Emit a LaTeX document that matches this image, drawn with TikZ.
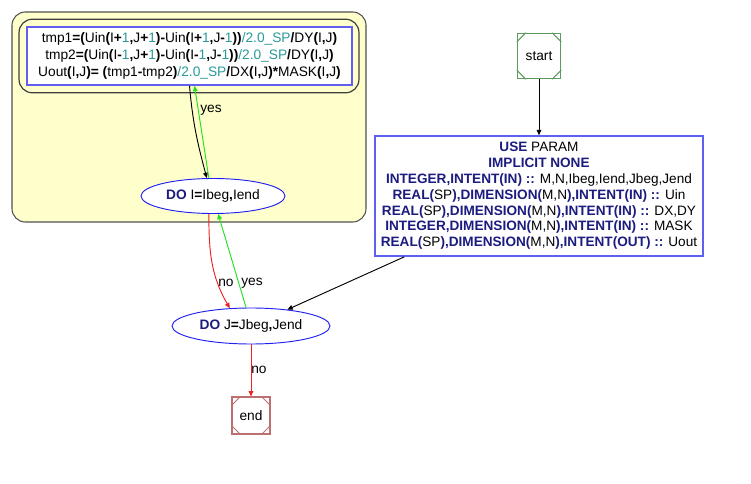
\documentclass[tikz,border=0pt]{standalone}
\usepackage{fontspec}
\setmainfont{Liberation Sans}
\usetikzlibrary{arrows.meta, calc, shapes.geometric}
\definecolor{clusterbg}{HTML}{FFFFCC}
\definecolor{clusterbd}{HTML}{505050}
\definecolor{framegray}{HTML}{404040}
\definecolor{boxblue}{HTML}{6060F0}
\definecolor{loopblue}{HTML}{2020F0}
\definecolor{kwnavy}{HTML}{1C1C80}
\definecolor{numteal}{HTML}{2A9A9A}
\definecolor{startgreen}{HTML}{5E9A5E}
\definecolor{stopred}{HTML}{BC7070}
\definecolor{nored}{HTML}{F02020}
\definecolor{yesgreen}{HTML}{20E020}

\newcommand{\kw}[1]{\textbf{\textcolor{kwnavy}{#1}}}
\newcommand{\op}[1]{\textbf{#1}}
\newcommand{\nm}[1]{\textcolor{numteal}{#1}}

\begin{document}
\begin{tikzpicture}[x=0.75pt, y=0.75pt,
  >={Triangle[length=4pt, width=3.5pt]},
  every node/.style={font=\fontsize{10.3pt}{12.4pt}\selectfont},
  loopnode/.style={ellipse, draw=loopblue, fill=white, line width=0.7pt, inner sep=0pt},
  termnode/.style={rectangle, fill=white, line width=0.8pt, inner sep=0pt},
  codebox/.style={rectangle, draw=boxblue, fill=white, line width=1.2pt, align=center, inner sep=0pt},
  edge/.style={line width=0.7pt, ->},
  lbl/.style={inner sep=1pt}]

\useasboundingbox (0,0) rectangle (751,483);

% ================================================================
% Loop cluster (inner DO)
% ================================================================
\draw[clusterbd, fill=clusterbg, line width=0.8pt, rounded corners=10pt]
  (12,261) rectangle (366,471);

\node[codebox, minimum width=244pt, minimum height=43.5pt,
      font=\fontsize{10.3pt}{12.9pt}\selectfont] (body) at (189.5,427)
  {tmp1\op{=(}Uin\op{(}I\op{+}\nm{1}\op{,}J\op{+}\nm{1}\op{)-}Uin\op{(}I\op{+}\nm{1}\op{,}J\op{-}\nm{1}\op{))}\nm{/2.0\_SP}\op{/}DY\op{(}I\op{,}J\op{)}\\
   tmp2\op{=(}Uin\op{(}I\op{-}\nm{1}\op{,}J\op{+}\nm{1}\op{)-}Uin\op{(}I\op{-}\nm{1}\op{,}J\op{-}\nm{1}\op{))}\nm{/2.0\_SP}\op{/}DY\op{(}I\op{,}J\op{)}\\
   Uout\op{(}I\op{,}J\op{)=} \op{(}tmp1\op{-}tmp2\op{)}\nm{/2.0\_SP}\op{/}DX\op{(}I\op{,}J\op{)*}MASK\op{(}I\op{,}J\op{)}};
\draw[framegray, line width=0.9pt, rounded corners=10pt]
  ($(body.south west)+(-7,-7)$) rectangle ($(body.north east)+(6,7)$);

\node[loopnode, minimum width=108pt, minimum height=26.25pt] (doi) at (213,287)
  {\kw{DO} I\op{=}Ibeg\op{,}Iend};

% ================================================================
% Outer nodes
% ================================================================
\node[termnode, draw=startgreen, minimum width=32.5pt, minimum height=34pt]
  (start) at (539,427) {start};

\node[codebox, minimum width=246pt, minimum height=90pt,
      font=\fontsize{10.2pt}{11.85pt}\selectfont] (param) at (539,287)
  {\kw{USE} PARAM\\
   \kw{IMPLICIT NONE}\\
   \kw{INTEGER,INTENT(IN) ::} M,N,Ibeg,Iend,Jbeg,Jend\\
   \kw{REAL(}SP\kw{),DIMENSION(}M,N\kw{),INTENT(IN) ::} Uin\\
   \kw{REAL(}SP\kw{),DIMENSION(}M,N\kw{),INTENT(IN) ::} DX,DY\\
   \kw{INTEGER,DIMENSION(}M,N\kw{),INTENT(IN) ::} MASK\\
   \kw{REAL(}SP\kw{),DIMENSION(}M,N\kw{),INTENT(OUT) ::} Uout};

\node[loopnode, minimum width=118.5pt, minimum height=27pt] (doj) at (251,157)
  {\kw{DO} J\op{=}Jbeg\op{,}Jend};

\node[termnode, draw=stopred, minimum width=28.5pt, minimum height=27.75pt]
  (stop) at (251,67.5) {end};

% Msquare corner cuts
\foreach \n/\col in {start/startgreen, stop/stopred}
  \foreach \c/\dx/\dy in {north west/1/-1, north east/-1/-1,
                          south west/1/1, south east/-1/1}
    \draw[\col, line width=0.7pt]
      ($(\n.\c)+(0,\dy*9)$) -- ($(\n.\c)+(\dx*9,0)$);

% ================================================================
% Edges
% ================================================================
\draw[edge] (start) -- (param);
\draw[edge] (param) -- (doj);
\draw[edge] (body.south) to[out=-85, in=105] (doi.109);
\draw[edge, yesgreen] (doi.103) -- ($(body.south)+(5,0)$);
\draw[edge, nored] (doi.257) to[out=-90, in=120] (doj.140);
\draw[edge, yesgreen] (doj.105) -- (doi.-74);
\draw[edge, nored] (doj) -- (stop);

% Edge labels
\node[lbl] (yes1) at (211,373) {yes};
\node[lbl] (no1) at (226,200) {no};
\node[lbl] (yes2) at (252,200) {yes};
\node[lbl] (no2) at (259,113) {no};

\end{tikzpicture}
\end{document}
